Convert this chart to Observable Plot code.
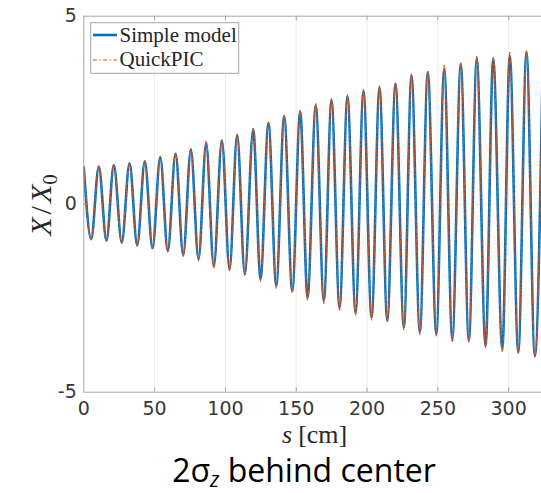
<!DOCTYPE html>
<html>
<head>
<meta charset="utf-8">
<script src="https://cdn.jsdelivr.net/npm/d3@7"></script>
<script src="https://cdn.jsdelivr.net/npm/@observablehq/plot@0.6"></script>
<style>
  html, body { margin: 0; padding: 0; background: #fff; overflow: hidden; }
  #chart { width: 541px; height: 493px; }
</style>
</head>
<body>
<div id="chart"></div>
<script>
// Positions (s in cm) of successive extrema: peak, trough, peak, ...
const sExtrema = [0, 5.2, 10.6, 16.0, 21.2, 26.8, 32.3, 37.7, 43.1, 48.5,
  54.0, 59.3, 64.8, 70.2, 75.6, 81.0, 86.4, 91.8, 97.5, 102.9,
  108.3, 113.7, 119.6, 124.8, 130.4, 135.9, 141.5, 147.2, 152.8, 158.0,
  163.8, 169.5, 174.9, 180.6, 186.2, 191.9, 197.5, 203.2, 208.8, 214.3,
  220.1, 226.0, 231.4, 237.3, 242.9, 248.9, 254.5, 260.2, 266.2, 271.9,
  277.5, 283.7, 289.1, 295.5, 300.8, 306.8, 312.6, 318.5, 324.2];

// Simple model X/X0 at those extrema
const simpleModel = [0.98, -0.93, 1.00, -0.97, 1.04, -1.02, 1.09, -1.09, 1.14, -1.17,
  1.25, -1.24, 1.34, -1.35, 1.45, -1.46, 1.61, -1.64, 1.69, -1.72,
  1.84, -1.85, 1.98, -1.98, 2.15, -2.16, 2.33, -2.29, 2.45, -2.47,
  2.62, -2.56, 2.76, -2.74, 2.86, -2.87, 3.00, -3.01, 3.10, -3.09,
  3.20, -3.27, 3.42, -3.40, 3.51, -3.45, 3.60, -3.58, 3.73, -3.63,
  3.87, -3.76, 3.87, -3.85, 3.95, -3.94, 4.04, -4.02, 4.05];

// QuickPIC X/X0 at those extrema
const quickPIC = [1.00, -0.94, 1.01, -0.99, 1.05, -1.04, 1.10, -1.11, 1.16, -1.20,
  1.27, -1.27, 1.36, -1.39, 1.48, -1.50, 1.68, -1.70, 1.71, -1.77,
  1.87, -1.91, 2.02, -2.05, 2.19, -2.23, 2.37, -2.36, 2.50, -2.55,
  2.67, -2.64, 2.81, -2.82, 2.91, -2.95, 3.05, -3.08, 3.15, -3.14,
  3.24, -3.33, 3.47, -3.47, 3.54, -3.50, 3.69, -3.67, 3.76, -3.67,
  3.94, -3.82, 3.91, -3.93, 4.04, -3.97, 4.09, -4.07, 4.10];

const xTicks = [0, 50, 100, 150, 200, 250, 300];
const yTicks = [-5, 0, 5];
const seriesNames = ["Simple model", "QuickPIC"];

const simpleRows = sExtrema.map((s, i) => ({s, v: simpleModel[i]}));
const quickRows = sExtrema.map((s, i) => ({s, v: quickPIC[i]}));

const axisGrey = "#a6a6a6";
const blue = "#0072BD", orange = "#D95319";
const dash = "4,2.5,1.2,2.5";

const svg = Plot.plot({
  width: 541,
  height: 493,
  marginLeft: 83.3,
  marginRight: 0,
  marginTop: 15.7,
  marginBottom: 101.3,
  style: {fontFamily: "DejaVu Sans", fontSize: "19px", color: "#383838", background: "white"},
  x: {domain: [0, 323.2], label: null},
  y: {domain: [-5, 5], label: null},
  marks: [
    Plot.gridX(xTicks.filter(d => d > 0), {stroke: "#000", strokeOpacity: 0.08}),
    Plot.gridY([0], {stroke: "#000", strokeOpacity: 0.08}),
    Plot.line(simpleRows, {x: "s", y: "v", curve: "monotone-x", stroke: blue, strokeWidth: 2.6, clip: true}),
    Plot.line(quickRows, {x: "s", y: "v", curve: "monotone-x", stroke: orange, strokeWidth: 1.2, strokeDasharray: dash, clip: true}),
    Plot.ruleX([0], {stroke: axisGrey}),
    Plot.ruleY([-5, 5], {stroke: axisGrey}),
    Plot.ruleX(xTicks.filter(d => d > 0), {y1: 5, y2: 4.88, stroke: axisGrey}),
    Plot.ruleX(xTicks.filter(d => d > 0), {y1: -5, y2: -4.88, stroke: axisGrey}),
    Plot.ruleY([0], {x1: 0, x2: 2, stroke: axisGrey}),
    Plot.axisX(xTicks, {tickSize: 0, tickPadding: 9, label: null, tickFormat: d => String(d)}),
    Plot.axisY(yTicks, {tickSize: 0, tickPadding: 7, label: null, tickFormat: d => String(d)})
  ]
});
document.getElementById("chart").appendChild(svg);

const root = d3.select(svg);
// legend
const lg = root.append("g").attr("text-anchor", "start");
lg.append("rect").attr("x", 90.7).attr("y", 22.7).attr("width", 148).attr("height", 50.6)
  .attr("fill", "white").attr("stroke", axisGrey);
lg.append("line").attr("x1", 93).attr("x2", 117).attr("y1", 35).attr("y2", 35)
  .attr("stroke", blue).attr("stroke-width", 2.6);
lg.append("line").attr("x1", 93).attr("x2", 117).attr("y1", 60).attr("y2", 60)
  .attr("stroke", orange).attr("stroke-width", 1.2).attr("stroke-dasharray", dash);
lg.selectAll("text.leg").data(seriesNames).join("text")
  .attr("x", 119.5).attr("y", (d, i) => 41.5 + i * 24.5)
  .attr("font-family", "Liberation Serif").attr("font-size", 21).attr("fill", "#262626")
  .attr("text-anchor", "start")
  .text(d => d);

// x label
const xl = root.append("text").attr("x", 282).attr("y", 443).attr("text-anchor", "start")
  .attr("font-family", "Liberation Serif").attr("font-size", 26).attr("fill", "#262626");
xl.append("tspan").attr("font-style", "italic").text("s");
xl.append("tspan").attr("dx", 6).text("[cm]");

// y label
const yl = root.append("text").attr("transform", "translate(51,205) rotate(-90)")
  .attr("text-anchor", "middle")
  .attr("font-family", "Liberation Serif").attr("font-size", 30).attr("fill", "#262626");
yl.append("tspan").attr("font-style", "italic").text("X");
yl.append("tspan").attr("dx", 3).text("/");
yl.append("tspan").attr("dx", 3).attr("font-style", "italic").text("X");
yl.append("tspan").attr("dy", 6).attr("font-size", 21).text("0");

// caption title below the axes
const tt = root.append("text").attr("x", 304).attr("y", 482).attr("text-anchor", "middle")
  .attr("font-family", "Open Sans, Noto Sans, sans-serif").attr("font-size", 32).attr("fill", "#000");
tt.append("tspan").text("2σ");
tt.append("tspan").attr("font-style", "italic").attr("font-size", 21).attr("dy", 4.5).text("z");
tt.append("tspan").attr("dy", -4.5).text(" behind center");
</script>
</body>
</html>
